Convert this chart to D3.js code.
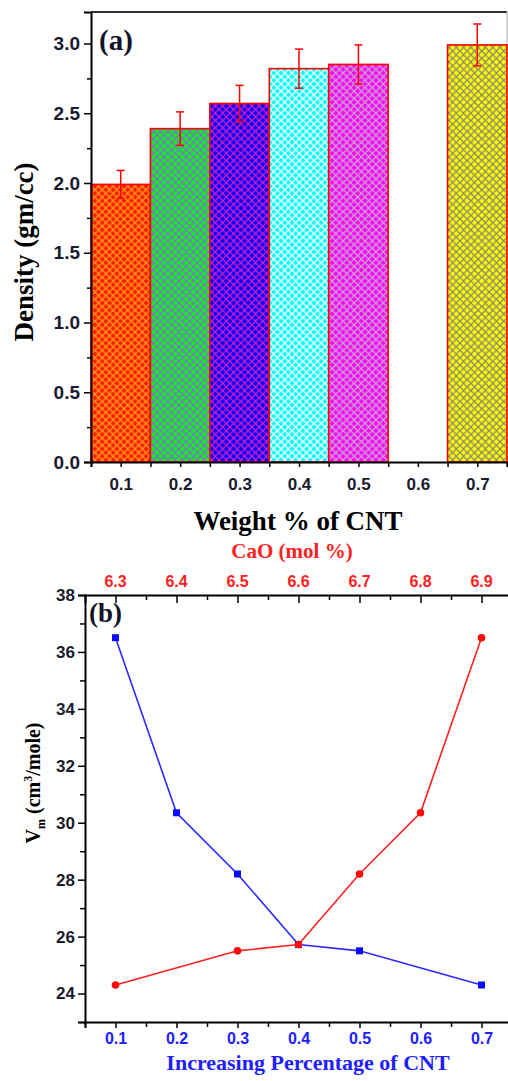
<!DOCTYPE html>
<html>
<head>
<meta charset="utf-8">
<script src="https://cdn.jsdelivr.net/npm/d3@7"></script>
<style>
  body { margin: 0; background: #fff; }
  svg text { font-family: "Liberation Serif", "DejaVu Serif", serif; font-weight: bold; }
  svg .tick text, svg text.cao { font-family: "Liberation Sans", Arial, sans-serif; }
</style>
</head>
<body>
<svg id="chart" width="508" height="1081"></svg>
<script>
// --- data for (a) density bars
var cnt = [0.1, 0.2, 0.3, 0.4, 0.5, 0.7];
var density = [1.99, 2.39, 2.57, 2.82, 2.85, 2.99];
var densityErr = [0.10, 0.12, 0.13, 0.14, 0.14, 0.15];
var barFill = ["#ff1a00", "#00ff00", "#0000ff", "#00ffff", "#ff00ff", "#ffff00"];
var barHatch = ["#ff9a1a", "#8a6ae0", "#d020c0", "#ffffff", "#c0a8c8", "#8a8a70"];
var xTicksA = [0.1, 0.2, 0.3, 0.4, 0.5, 0.6, 0.7];
var yTicksA = [0.0, 0.5, 1.0, 1.5, 2.0, 2.5, 3.0];

// --- data for (b) molar volume
var vmBlueX = [0.1, 0.2, 0.3, 0.4, 0.5, 0.7];
var vmBlue = [36.5, 30.35, 28.2, 25.72, 25.5, 24.3];
var vmRedX = [0.1, 0.3, 0.4, 0.5, 0.6, 0.7];
var vmRed = [24.3, 25.5, 25.72, 28.2, 30.35, 36.5];
var caoLabels = ["6.3", "6.4", "6.5", "6.6", "6.7", "6.8", "6.9"];
var yTicksB = [24, 26, 28, 30, 32, 34, 36, 38];

var svg = d3.select("#chart");
var defs = svg.append("defs");

// crosshatch patterns
barFill.forEach(function(c, i) {
    var p = defs.append("pattern")
        .attr("id", "hatch" + i)
        .attr("patternUnits", "userSpaceOnUse")
        .attr("width", 7.3).attr("height", 7.3);
    p.append("rect").attr("width", 7.3).attr("height", 7.3).attr("fill", c);
    p.append("path")
        .attr("d", "M0,0L7.3,7.3M7.3,0L0,7.3")
        .attr("stroke", barHatch[i]).attr("stroke-width", 1.4);
});

// ================= (a) =================
var xa = d3.scaleLinear().domain([0.05, 0.75]).range([91, 507]);
var ya = d3.scaleLinear().domain([0, 3.226]).range([462, 12]);

var ga = svg.append("g");

// frame
ga.append("line").attr("x1", 91).attr("x2", 507).attr("y1", 12).attr("y2", 12)
    .attr("stroke", "#333").attr("stroke-width", 2);
ga.append("line").attr("x1", 507).attr("x2", 507).attr("y1", 12).attr("y2", 462)
    .attr("stroke", "#aaa").attr("stroke-width", 1);

ga.selectAll("rect.bar").data(cnt).enter().append("rect")
    .attr("class", "bar")
    .attr("x", function(d) { return xa(d - 0.05); })
    .attr("width", function(d) { return xa(d + 0.05) - xa(d - 0.05); })
    .attr("y", function(d, i) { return ya(density[i]); })
    .attr("height", function(d, i) { return ya(0) - ya(density[i]); })
    .attr("fill", function(d, i) { return "url(#hatch" + i + ")"; })
    .attr("stroke", "#ff0000").attr("stroke-width", 1.6);

// error bars
var eb = ga.selectAll("g.err").data(cnt).enter().append("g").attr("class", "err")
    .attr("stroke", "#ff0000").attr("stroke-width", 1.5);
eb.append("line")
    .attr("x1", function(d) { return xa(d); }).attr("x2", function(d) { return xa(d); })
    .attr("y1", function(d, i) { return ya(density[i] + densityErr[i]); })
    .attr("y2", function(d, i) { return ya(density[i] - densityErr[i]); });
[1, -1].forEach(function(s) {
    eb.append("line")
        .attr("x1", function(d) { return xa(d) - 4; }).attr("x2", function(d) { return xa(d) + 4; })
        .attr("y1", function(d, i) { return ya(density[i] + s * densityErr[i]); })
        .attr("y2", function(d, i) { return ya(density[i] + s * densityErr[i]); });
});

// y axis (a)
var yAxisA = ga.append("g").attr("transform", "translate(91,0)")
    .call(d3.axisLeft(ya).tickValues(yTicksA).tickFormat(d3.format(".1f")).tickSize(7).tickPadding(4));
ga.append("g").attr("transform", "translate(91,0)")
    .call(d3.axisLeft(ya).tickValues([0.25, 0.75, 1.25, 1.75, 2.25, 2.75]).tickFormat("").tickSize(4))
    .select(".domain").remove();
yAxisA.select(".domain").attr("stroke-width", 2);
yAxisA.selectAll("text").attr("font-size", 19).attr("fill", "#1a1a2e");

// x axis (a)
var xAxisA = ga.append("g").attr("transform", "translate(0,462)")
    .call(d3.axisBottom(xa).tickValues(xTicksA).tickFormat(d3.format(".1f")).tickSize(5).tickPadding(11));
ga.append("g").attr("transform", "translate(0,462)")
    .call(d3.axisBottom(xa).tickValues([0.05, 0.15, 0.25, 0.35, 0.45, 0.55, 0.65, 0.75]).tickFormat("").tickSize(5))
    .select(".domain").remove();
xAxisA.select(".domain").attr("stroke-width", 2);
xAxisA.selectAll("text").attr("font-size", 17).attr("fill", "#1a1a2e");
ga.selectAll(".tick line").attr("stroke-width", 1.5);

ga.append("text").attr("x", 298).attr("y", 530).attr("text-anchor", "middle")
    .attr("font-size", 27).text("Weight % of CNT");
ga.append("text").attr("transform", "translate(33,252) rotate(-90)").attr("text-anchor", "middle")
    .attr("font-size", 27).text("Density (gm/cc)");
ga.append("text").attr("x", 99).attr("y", 50).attr("font-size", 29).attr("fill", "#141428").text("(a)");

// ================= (b) =================
var xb = d3.scaleLinear().domain([0.05, 0.75]).range([85, 512]);
var yb = d3.scaleLinear().domain([23, 38]).range([1022, 595]);
var gb = svg.append("g");

// top axis (CaO)
var xTop = gb.append("g").attr("transform", "translate(0,595)")
    .call(d3.axisBottom(xb).tickValues(xTicksA).tickFormat("").tickSize(8));
gb.append("g").attr("transform", "translate(0,595)")
    .call(d3.axisBottom(xb).tickValues([0.15, 0.25, 0.35, 0.45, 0.55, 0.65]).tickFormat("").tickSize(5))
    .select(".domain").remove();
xTop.select(".domain").attr("stroke-width", 2);
gb.selectAll("text.cao").data(caoLabels).enter().append("text")
    .attr("class", "cao")
    .attr("x", function(d, i) { return xb(xTicksA[i]); })
    .attr("y", 587).attr("text-anchor", "middle")
    .attr("font-size", 16).attr("fill", "#ff2020").text(function(d) { return d; });
gb.append("text").attr("x", 292).attr("y", 558).attr("text-anchor", "middle")
    .attr("font-size", 21).attr("fill", "#ff2020").text("CaO (mol %)");

// left axis
var yAxisB = gb.append("g").attr("transform", "translate(85,0)")
    .call(d3.axisLeft(yb).tickValues(yTicksB).tickSize(7).tickPadding(3));
gb.append("g").attr("transform", "translate(85,0)")
    .call(d3.axisLeft(yb).tickValues([23, 25, 27, 29, 31, 33, 35, 37]).tickFormat("").tickSize(5))
    .select(".domain").remove();
yAxisB.select(".domain").attr("stroke-width", 2);
yAxisB.selectAll("text").attr("font-size", 17).attr("fill", "#1a1a2e");

// bottom axis
var xAxisB = gb.append("g").attr("transform", "translate(0,1022)")
    .call(d3.axisBottom(xb).tickValues(xTicksA).tickFormat(d3.format(".1f")).tickSize(6).tickPadding(5));
gb.append("g").attr("transform", "translate(0,1022)")
    .call(d3.axisBottom(xb).tickValues([0.05, 0.15, 0.25, 0.35, 0.45, 0.55, 0.65, 0.75]).tickFormat("").tickSize(5))
    .select(".domain").remove();
xAxisB.select(".domain").attr("stroke-width", 2);
xAxisB.selectAll("text").attr("font-size", 16).attr("fill", "#2020ff");
gb.selectAll(".tick line").attr("stroke-width", 1.5);

gb.append("text").attr("x", 308).attr("y", 1070).attr("text-anchor", "middle")
    .attr("font-size", 22).attr("fill", "#2020ff").text("Increasing Percentage of CNT");

var yt = gb.append("text").attr("transform", "translate(40,783) rotate(-90)").attr("text-anchor", "middle")
    .attr("font-size", 20);
yt.append("tspan").text("V");
yt.append("tspan").attr("font-size", 12).attr("dy", 5).text("m");
yt.append("tspan").attr("dy", -5).text(" (cm");
yt.append("tspan").attr("font-size", 12).attr("dy", -8).text("3");
yt.append("tspan").attr("dy", 8).text("/mole)");

gb.append("text").attr("x", 89).attr("y", 622).attr("font-size", 27).attr("fill", "#141428").text("(b)");

var line = d3.line();

// blue series
gb.append("path")
    .attr("d", line(vmBlueX.map(function(d, i) { return [xb(d), yb(vmBlue[i])]; })))
    .attr("fill", "none").attr("stroke", "#2a2aff").attr("stroke-width", 1.6);
gb.selectAll("rect.sq").data(vmBlueX).enter().append("rect").attr("class", "sq")
    .attr("x", function(d) { return xb(d) - 3.5; })
    .attr("y", function(d, i) { return yb(vmBlue[i]) - 3.5; })
    .attr("width", 7).attr("height", 7).attr("fill", "#0a0aff");

// red series
gb.append("path")
    .attr("d", line(vmRedX.map(function(d, i) { return [xb(d), yb(vmRed[i])]; })))
    .attr("fill", "none").attr("stroke", "#ff2020").attr("stroke-width", 1.6);
gb.selectAll("circle.rd").data(vmRedX).enter().append("circle").attr("class", "rd")
    .attr("cx", function(d) { return xb(d); })
    .attr("cy", function(d, i) { return yb(vmRed[i]); })
    .attr("r", 3.8).attr("fill", "#ff0a0a");
</script>
</body>
</html>
